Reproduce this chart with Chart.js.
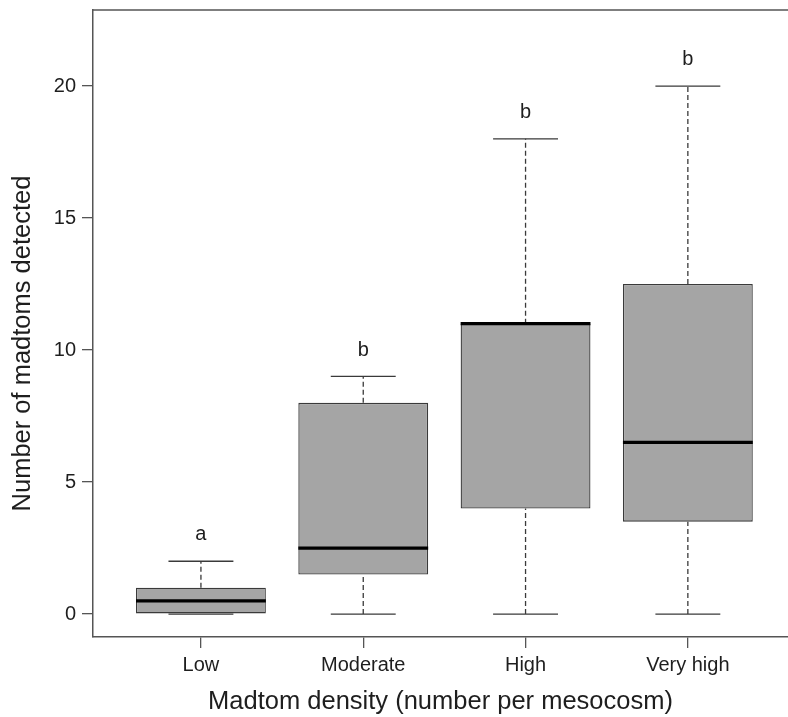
<!DOCTYPE html>
<html>
<head>
<meta charset="utf-8">
<script src="https://cdn.jsdelivr.net/npm/chart.js@4.4.1/dist/chart.umd.min.js"></script>
<style>
  html, body { margin: 0; padding: 0; background: #fff; }
  canvas { display: block; }
</style>
</head>
<body>
<canvas id="box-chart" width="788" height="717"></canvas>
<script>
// boxplot summary
const categories = ['Low', 'Moderate', 'High', 'Very high'];
const mins    = [0,   0,   0,  0];
const q1s     = [0,   1.5, 4,  3.5];
const medians = [0.5, 2.5, 11, 6.5];
const q3s     = [1,   8,   11, 12.5];
const maxs    = [2,   9,   18, 20];
const letters = ['a', 'b', 'b', 'b'];
const yTicks = [0, 5, 10, 15, 20];

const FONT = '"Liberation Sans", Arial, Helvetica, sans-serif';
const TEXT = '#1e1e1e';
const AXIS = '#555555';

// whisker, cap and median segments, split by null points
const whiskerPts = [];
const capPts = [];
const medianPts = [];
categories.forEach((c, i) => {
    const x = i + 1;
    whiskerPts.push({x: x, y: q3s[i]}, {x: x, y: maxs[i]}, {x: x, y: null});
    whiskerPts.push({x: x, y: mins[i]}, {x: x, y: q1s[i]}, {x: x, y: null});
    capPts.push({x: x - 0.2, y: maxs[i]}, {x: x + 0.2, y: maxs[i]}, {x: x, y: null});
    capPts.push({x: x - 0.2, y: mins[i]}, {x: x + 0.2, y: mins[i]}, {x: x, y: null});
    medianPts.push({x: x - 0.4, y: medians[i]}, {x: x + 0.4, y: medians[i]}, {x: x, y: null});
});

const extras = {
    id: 'extras',
    afterDatasetsDraw(chart) {
        const ctx = chart.ctx;
        const xs = chart.scales.x;
        const ys = chart.scales.y;
        const area = chart.chartArea;
        ctx.save();
        // top frame line
        ctx.strokeStyle = AXIS;
        ctx.lineWidth = 1.5;
        ctx.beginPath();
        ctx.moveTo(area.left, area.top);
        ctx.lineTo(area.right, area.top);
        ctx.stroke();
        // group letters
        ctx.fillStyle = TEXT;
        ctx.font = '20px ' + FONT;
        ctx.textAlign = 'center';
        ctx.textBaseline = 'middle';
        letters.forEach((l, i) => {
            ctx.fillText(l, xs.getPixelForValue(i + 1), ys.getPixelForValue(maxs[i] + 1));
        });
        // y axis title
        ctx.font = '25.5px ' + FONT;
        ctx.translate(23, (area.top + area.bottom) / 2 + 20);
        ctx.rotate(-Math.PI / 2);
        ctx.fillText('Number of madtoms detected', 0, 0);
        ctx.restore();
    }
};

function noOverhang(s) {
    s.paddingTop = 0;
    s.paddingBottom = 0;
    s.paddingLeft = 0;
    s.paddingRight = 0;
}

new Chart(document.getElementById('box-chart'), {
    type: 'bar',
    data: {
        datasets: [{
            type: 'bar',
            data: categories.map((c, i) => ({x: i + 1, y: [q1s[i], q3s[i]]})),
            backgroundColor: '#a5a5a5',
            borderColor: '#3a3a3a',
            borderWidth: 1.3,
            borderSkipped: false,
            barPercentage: 1,
            categoryPercentage: 0.8,
            order: 3
        }, {
            type: 'line',
            data: whiskerPts,
            borderColor: '#3a3a3a',
            borderWidth: 1.3,
            borderDash: [5, 3],
            pointRadius: 0,
            spanGaps: false,
            fill: false,
            order: 2
        }, {
            type: 'line',
            data: capPts,
            borderColor: '#3a3a3a',
            borderWidth: 1.3,
            pointRadius: 0,
            spanGaps: false,
            fill: false,
            order: 1
        }, {
            type: 'line',
            data: medianPts,
            borderColor: '#000000',
            borderWidth: 3.2,
            borderCapStyle: 'butt',
            pointRadius: 0,
            spanGaps: false,
            fill: false,
            order: 0
        }]
    },
    options: {
        responsive: false,
        animation: false,
        events: [],
        layout: { padding: { left: 0, right: 0, top: 10, bottom: 0 } },
        plugins: {
            legend: { display: false },
            tooltip: { enabled: false }
        },
        scales: {
            x: {
                type: 'linear',
                position: 'bottom',
                min: 0.335,
                max: 4.617,
                offset: false,
                afterBuildTicks: s => { s.ticks = categories.map((c, i) => ({value: i + 1})); },
                afterFit: s => { s.height = 80; noOverhang(s); },
                grid: { display: true, drawOnChartArea: false, offset: false, tickLength: 11, color: AXIS, lineWidth: 1.3 },
                border: { display: true, color: AXIS, width: 1.5 },
                ticks: {
                    callback: v => categories[v - 1],
                    color: TEXT,
                    font: { family: FONT, size: 20 },
                    padding: 5,
                    maxRotation: 0,
                    autoSkip: false
                },
                title: {
                    display: true,
                    text: 'Madtom density (number per mesocosm)',
                    color: TEXT,
                    font: { family: FONT, size: 25.5, lineHeight: 1 },
                    padding: { top: 0, bottom: 2 }
                }
            },
            y: {
                type: 'linear',
                min: -0.87,
                max: 22.88,
                afterBuildTicks: s => { s.ticks = yTicks.map(v => ({value: v})); },
                afterFit: s => { s.width = 93; noOverhang(s); },
                grid: { display: true, drawOnChartArea: false, tickLength: 11, color: AXIS, lineWidth: 1.3 },
                border: { display: true, color: AXIS, width: 1.5 },
                ticks: {
                    color: TEXT,
                    font: { family: FONT, size: 20 },
                    padding: 6
                }
            }
        }
    },
    plugins: [extras]
});
</script>
</body>
</html>
